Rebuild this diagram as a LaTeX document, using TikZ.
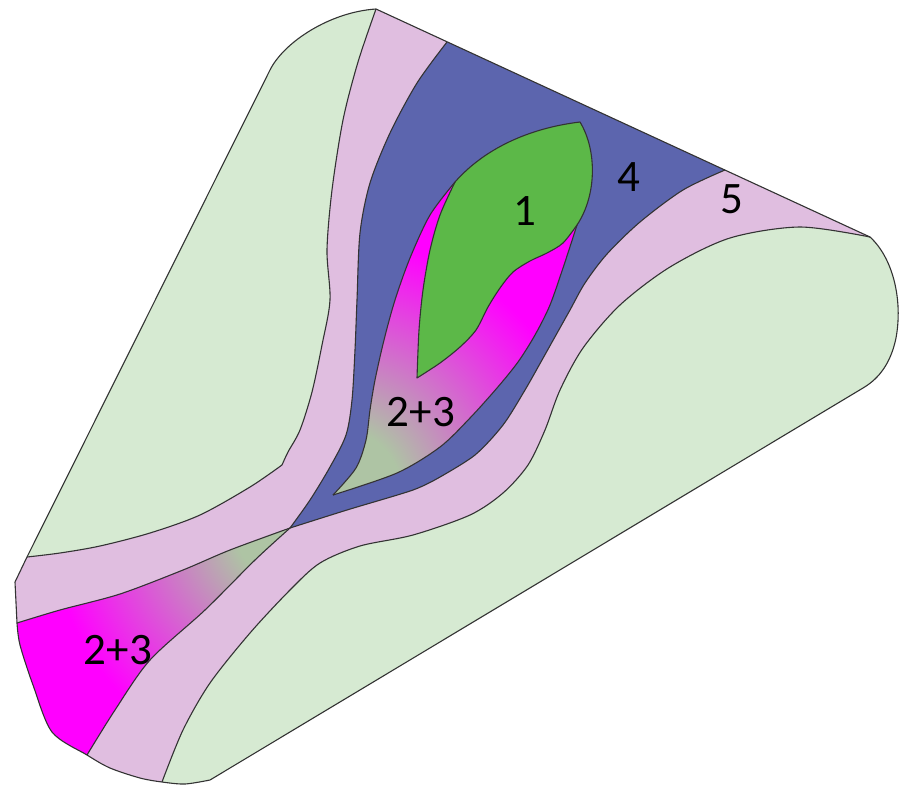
\documentclass[tikz,border=0pt]{standalone}
\usepackage{fontspec}
\setmainfont{Carlito}
\definecolor{lgreen}{HTML}{D6EAD2}
\definecolor{pinkv}{HTML}{E0BEE0}
\definecolor{bluev}{HTML}{5C65AE}
\definecolor{greenv}{HTML}{5CB848}
\definecolor{magv}{HTML}{FF00FF}
\definecolor{ggv}{HTML}{AEC4A4}
\pgfdeclareradialshading{magfade}{\pgfpointorigin}{color(0bp)=(ggv); color(6bp)=(ggv); color(25bp)=(magv); color(50bp)=(magv)}
\tikzset{
  edge/.style={draw=black!80, line width=1.1pt, line join=round},
  lbl/.style={font=\fontsize{45}{54}\selectfont, text=black, inner sep=0pt}
}
\begin{document}
\begin{tikzpicture}[x=1pt,y=-1pt]
\useasboundingbox (0,0) rectangle (899,787);
\begin{scope}
\clip (376,9) -- (870,237) .. controls (893,258) and (903,300) .. (896,338) .. controls (891,362) and (880,378) .. (863,388) -- (210,780)
  -- plot[smooth] coordinates {(210,780) (185,784) (162,782) (140,778) (110,768) (87,755) (52,732) (33,685) (20,645) (17,623)}
  -- (15,582) -- (27,557) -- (270,70) .. controls (284,42) and (330,12) .. (376,9) -- cycle;
\fill[lgreen] (0,0) rectangle (899,787);
% pink bands
\fill[pinkv] (376,9) -- plot[smooth] coordinates {(376,9) (358,62) (343,120) (332,190) (327,250) (330,300) (322,345) (312,392) (300,430) (288,452) (282,465)}
  -- plot[smooth] coordinates {(282,465) (250,487) (200,515) (150,533) (100,546) (60,553) (27,557)}
  -- (0,557) -- (0,787) -- (162,787)
  -- plot[smooth] coordinates {(162,782) (183,730) (210,683) (250,633) (290,590) (320,563) (360,546) (413,535) (470,515) (503,493) (528,465) (545,430) (560,390) (583,348) (620,305) (670,267) (730,238) (800,227) (870,237)}
  -- (376,0) -- cycle;
% blue band
\fill[bluev] (447,42) -- plot[smooth] coordinates {(447,42) (417,83) (390,133) (370,183) (360,233) (357,300) (355,350) (352,400) (346,435) (330,467) (310,500) (290,528)}
  -- plot[smooth] coordinates {(290,528) (347,510) (413,490) (440,477)}
  -- plot[smooth] coordinates {(440,477) (475,455) (503,425) (525,390) (542,360) (556,335) (570,310) (585,283) (607,254) (640,222) (683,190) (725,170)}
  -- cycle;
% lower magenta
\begin{scope}
\clip (290,528) -- plot[smooth] coordinates {(290,528) (230,550) (183,570) (120,594) (60,610) (17,623)}
  -- (0,623) -- (0,770) -- (87,770)
  -- plot[smooth] coordinates {(87,755) (115,710) (150,660) (205,610) (255,560) (290,528)} -- cycle;
\fill[magv] (0,450) rectangle (320,787);
\shade[shading=magfade] (292,526) circle (240);
\end{scope}
% upper magenta
\begin{scope}
\clip (455,182) -- plot[smooth] coordinates {(455,182) (430,215) (410,258) (395,300) (384,340) (375,380) (370,410) (366,440) (356,468) (333,495)}
  -- plot[smooth] coordinates {(333,495) (397,473) (440,447) (470,418) (497,388) (518,362) (535,335) (550,305) (564,265) (577,225)} -- cycle;
\fill[magv] (300,150) rectangle (620,520);
\shade[shading=magfade] (340,490) circle (250);
\end{scope}
\end{scope}
% green 1
\path[fill=greenv, edge] (455,182) .. controls (485,148) and (530,128) .. (580,122)
  .. controls (597,150) and (597,195) .. (577,225)
  -- plot[smooth] coordinates {(577,225) (563,243) (547,253) (530,261) (513,272) (500,288) (488,307) (476,330) (460,347) (440,363) (417,378)}
  -- plot[smooth] coordinates {(417,378) (419,330) (423,290) (430,250) (440,215) (455,182)} -- cycle;
% boundary lines
\draw[edge] plot[smooth] coordinates {(376,9) (358,62) (343,120) (332,190) (327,250) (330,300) (322,345) (312,392) (300,430) (288,452) (282,465)};
\draw[edge] plot[smooth] coordinates {(282,465) (250,487) (200,515) (150,533) (100,546) (60,553) (27,557)};
\draw[edge] plot[smooth] coordinates {(162,782) (183,730) (210,683) (250,633) (290,590) (320,563) (360,546) (413,535) (470,515) (503,493) (528,465) (545,430) (560,390) (583,348) (620,305) (670,267) (730,238) (800,227) (870,237)};
\draw[edge] plot[smooth] coordinates {(447,42) (417,83) (390,133) (370,183) (360,233) (357,300) (355,350) (352,400) (346,435) (330,467) (310,500) (290,528)};
\draw[edge] plot[smooth] coordinates {(290,528) (347,510) (413,490) (440,477)}
  -- plot[smooth] coordinates {(440,477) (475,455) (503,425) (525,390) (542,360) (556,335) (570,310) (585,283) (607,254) (640,222) (683,190) (725,170)};
\draw[edge] plot[smooth] coordinates {(290,528) (230,550) (183,570) (120,594) (60,610) (17,623)};
\draw[edge] plot[smooth] coordinates {(87,755) (115,710) (150,660) (205,610) (255,560) (290,528)};
\draw[edge] plot[smooth] coordinates {(455,182) (430,215) (410,258) (395,300) (384,340) (375,380) (370,410) (366,440) (356,468) (333,495)};
\draw[edge] plot[smooth] coordinates {(333,495) (397,473) (440,447) (470,418) (497,388) (518,362) (535,335) (550,305) (564,265) (577,225)};
% outline
\draw[edge] (376,9) -- (870,237) .. controls (893,258) and (903,300) .. (896,338) .. controls (891,362) and (880,378) .. (863,388) -- (210,780)
  -- plot[smooth] coordinates {(210,780) (185,784) (162,782) (140,778) (110,768) (87,755) (52,732) (33,685) (20,645) (17,623)}
  -- (15,582) -- (27,557) -- (270,70) .. controls (284,42) and (330,12) .. (376,9) -- cycle;
% labels
\node[lbl] (n1) at (525,211) {1};
\node[lbl] (n4) at (629,177) {4};
\node[lbl] (n5) at (732,199) {5};
\node[lbl] (n23a) at (421,412) {2+3};
\node[lbl] (n23b) at (118,650) {2+3};
\end{tikzpicture}
\end{document}
